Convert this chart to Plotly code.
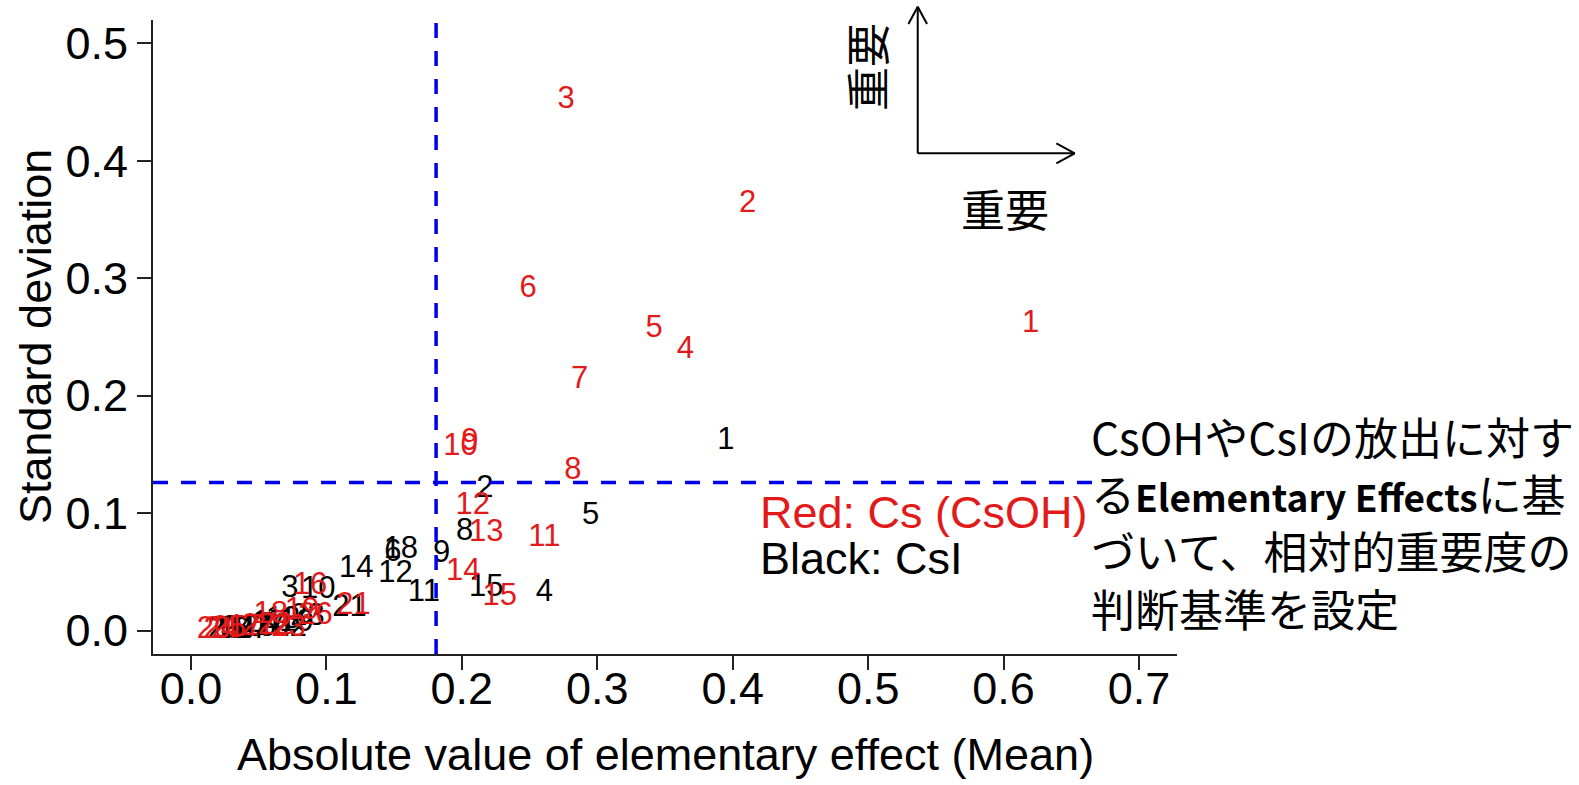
import plotly.graph_objects as go

# Morris screening results: mean |elementary effect| vs standard deviation
red_labels = [str(i) for i in range(1, 28)]
red_mean = [0.620, 0.411, 0.277, 0.365, 0.342, 0.249, 0.287, 0.282, 0.206, 0.199,
            0.261, 0.208, 0.218, 0.201, 0.228, 0.088, 0.040, 0.059, 0.082, 0.017,
            0.120, 0.062, 0.072, 0.022, 0.028, 0.092, 0.050]
red_sd = [0.261, 0.363, 0.452, 0.239, 0.257, 0.291, 0.213, 0.136, 0.160, 0.156,
          0.079, 0.106, 0.083, 0.050, 0.028, 0.038, 0.002, 0.013, 0.016, 0.000,
          0.021, 0.004, 0.002, 0.000, 0.001, 0.012, 0.003]

black_labels = [str(i) for i in range(1, 28)]
black_mean = [0.395, 0.217, 0.073, 0.261, 0.295, 0.149, 0.055, 0.202, 0.185, 0.094,
              0.172, 0.151, 0.068, 0.122, 0.218, 0.030, 0.058, 0.155, 0.078, 0.025,
              0.117, 0.073, 0.086, 0.035, 0.050, 0.060, 0.045]
black_sd = [0.161, 0.120, 0.035, 0.032, 0.097, 0.066, 0.004, 0.084, 0.065, 0.034,
            0.032, 0.048, 0.009, 0.052, 0.036, 0.000, 0.005, 0.068, 0.006, 0.000,
            0.019, 0.002, 0.011, 0.001, 0.002, 0.003, 0.000]

mean_threshold = 0.181
sd_threshold = 0.126

x_ticks = [0.0, 0.1, 0.2, 0.3, 0.4, 0.5, 0.6, 0.7]
y_ticks = [0.0, 0.1, 0.2, 0.3, 0.4, 0.5]
x_range = [-0.028, 0.728]
y_range = [-0.02, 0.52]

RED = "#e21a1a"
BLUE = "#0000ee"
SANS = "Liberation Sans, Arial, sans-serif"
JP = "Noto Sans CJK JP, sans-serif"

fig = go.Figure()
fig.add_trace(go.Scatter(x=black_mean, y=black_sd, text=black_labels, mode="text",
                         textposition="middle center",
                         textfont=dict(family=SANS, size=31, color="black"),
                         hoverinfo="skip", showlegend=False))
fig.add_trace(go.Scatter(x=red_mean, y=red_sd, text=red_labels, mode="text",
                         textposition="middle center",
                         textfont=dict(family=SANS, size=31, color=RED),
                         hoverinfo="skip", showlegend=False))

# threshold lines
fig.add_shape(type="line", xref="x", yref="paper", x0=mean_threshold, x1=mean_threshold,
              y0=0, y1=1, line=dict(color=BLUE, width=3.5, dash="15px,13px"))
fig.add_shape(type="line", xref="x", yref="y", x0=x_range[0], x1=0.672,
              y0=sd_threshold, y1=sd_threshold,
              line=dict(color=BLUE, width=3.5, dash="15px,13px"))

# importance arrows (paper coordinates)
ax0, ay0 = 0.7468, 0.7897
fig.add_shape(type="line", xref="paper", yref="paper", x0=ax0, y0=ay0, x1=ax0, y1=1.021,
              line=dict(color="black", width=2))
fig.add_shape(type="line", xref="paper", yref="paper", x0=ax0, y0=ay0, x1=0.9001, y1=ay0,
              line=dict(color="black", width=2))
for dx in (-0.0091, 0.0091):
    fig.add_shape(type="line", xref="paper", yref="paper", x0=ax0, y0=1.021,
                  x1=ax0 + dx, y1=1.021 - 0.0273, line=dict(color="black", width=2))
for dy in (-0.0158, 0.0158):
    fig.add_shape(type="line", xref="paper", yref="paper", x0=0.9001, y0=ay0,
                  x1=0.9001 - 0.0179, y1=ay0 + dy, line=dict(color="black", width=2))

note = ("CsOHやCsIの放出に対す<br>"
        "る<b><span style=\"font-size:37px\">Elementary Effects</span></b>に基<br>"
        "づいて、相対的重要度の<br>"
        "判断基準を設定")

def ann(text, x, y, font, **kw):
    d = dict(text=text, x=x, y=y, xref="paper", yref="paper", showarrow=False,
             xanchor="center", yanchor="middle", font=font)
    d.update(kw)
    return d

annotations = [
    ann("重要", 0.6963, 0.926, dict(family=JP, size=44, color="black"), textangle=-90),
    ann("重要", 0.8320, 0.7029, dict(family=JP, size=44, color="black")),
    ann("Red: Cs (CsOH)", 0.5908, 0.2224, dict(family=SANS, size=45, color=RED),
        xanchor="left"),
    ann("Black: CsI", 0.5908, 0.1514, dict(family=SANS, size=45, color="black"),
        xanchor="left"),
    ann(note, 0.914, 0.2080, dict(family=JP, size=44, color="black"),
        xanchor="left", align="left"),
    ann("Absolute value of elementary effect (Mean)", 0.5, -0.159,
        dict(family=SANS, size=45, color="black")),
    ann("Standard deviation", -0.1152, 0.5, dict(family=SANS, size=45, color="black"),
        textangle=-90),
]

axis_style = dict(showgrid=False, zeroline=False, showline=True, linecolor="#222",
                  linewidth=2, ticks="outside", ticklen=14, tickwidth=2, tickcolor="#222",
                  tickfont=dict(family=SANS, size=45, color="black"))

fig.update_layout(
    width=1579, height=785,
    margin=dict(l=153, r=402, t=20, b=131, pad=0),
    paper_bgcolor="white", plot_bgcolor="white",
    annotations=annotations,
    xaxis=dict(range=x_range, tickvals=x_ticks, ticktext=[f"{v:.1f}" for v in x_ticks],
               ticklabelstandoff=-20, **axis_style),
    yaxis=dict(range=y_range, tickvals=y_ticks, ticktext=[f"{v:.1f}" for v in y_ticks],
               **axis_style),
)

fig.write_html("out.html")
